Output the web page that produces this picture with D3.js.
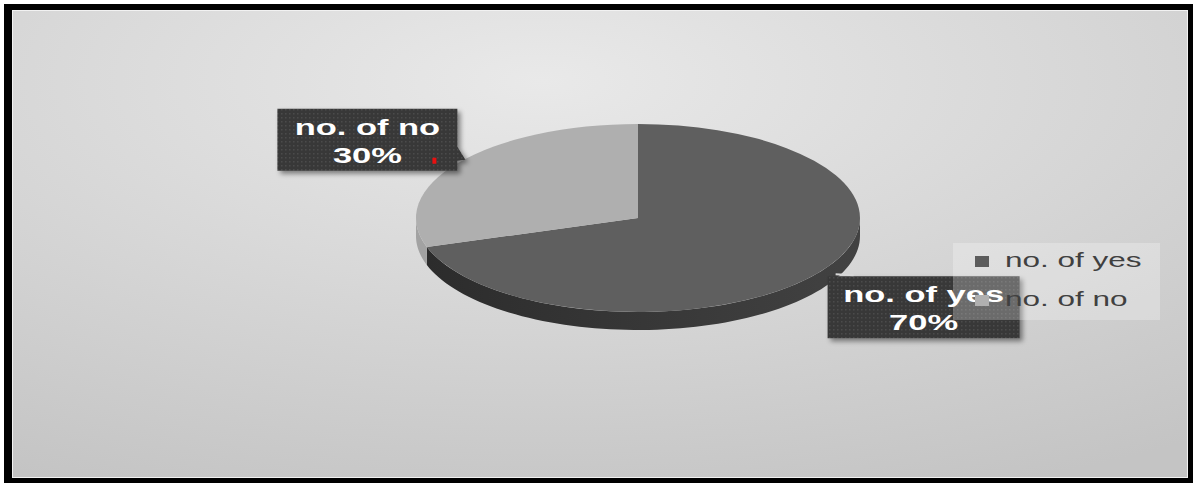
<!DOCTYPE html>
<html>
<head>
<meta charset="utf-8">
<script src="https://cdn.jsdelivr.net/npm/d3@7"></script>
<style>
  html, body { margin: 0; padding: 0; background: #ffffff; }
  svg { display: block; }
</style>
</head>
<body>
<script>
// Survey answers
const categories = ["no. of yes", "no. of no"];
const values = [70, 30];

// Slice styling
const topColors = ["#5f5f5f", "#afafaf"];
const sideColors = ["#363636", "#a2a2a2"];
const legendColors = ["#5c5c5c", "#b0b0b0"];

const W = 1193, H = 483;
const svg = d3.select("body").append("svg")
  .attr("width", W).attr("height", H)
  .attr("font-family", "'Liberation Sans', Arial, sans-serif");

const defs = svg.append("defs");

// Chart-area background: soft grey radial wash
const bg = defs.append("radialGradient").attr("id", "bgGrad")
  .attr("cx", "45%").attr("cy", "15%").attr("r", "95%");
bg.append("stop").attr("offset", "0%").attr("stop-color", "#e9e9e9");
bg.append("stop").attr("offset", "100%").attr("stop-color", "#c4c4c4");

// Dotted texture for the data-label callouts
const pat = defs.append("pattern").attr("id", "dots")
  .attr("width", 4).attr("height", 4).attr("patternUnits", "userSpaceOnUse");
pat.append("rect").attr("width", 4).attr("height", 4).attr("fill", "#383838");
pat.append("rect").attr("x", 1).attr("y", 1).attr("width", 1.5).attr("height", 1.5).attr("fill", "#4c4c4c");

// Drop shadow for the callouts
const sh = defs.append("filter").attr("id", "shadow")
  .attr("x", "-20%").attr("y", "-20%").attr("width", "150%").attr("height", "160%");
sh.append("feDropShadow").attr("dx", 3).attr("dy", 3).attr("stdDeviation", 2.5)
  .attr("flood-color", "#000").attr("flood-opacity", 0.45);

// Side shading for the pie wall
const sideGrad = defs.append("linearGradient").attr("id", "sideGrad")
  .attr("x1", "0%").attr("x2", "100%").attr("y1", "0%").attr("y2", "0%");
sideGrad.append("stop").attr("offset", "0%").attr("stop-color", "#2c2c2c");
sideGrad.append("stop").attr("offset", "100%").attr("stop-color", "#424242");

// Frame
svg.append("rect").attr("x", 4).attr("y", 4).attr("width", W - 4).attr("height", H - 4).attr("fill", "#000");
svg.append("rect").attr("x", 12).attr("y", 10).attr("width", 1176).attr("height", 468).attr("fill", "#f2f2f2");
svg.append("rect").attr("x", 13).attr("y", 11).attr("width", 1174).attr("height", 466).attr("fill", "url(#bgGrad)");

// Pie geometry (tilted disc)
const cx = 638, cy = 218, rx = 222, ry = 94, depth = 18;
const total = d3.sum(values);
const pie = d3.pie().sort(null).value(d => d.value);
const arcs = pie(categories.map((c, i) => ({ name: c, value: values[i], i })));

const pt = (a, r = 1) => [cx + rx * r * Math.sin(a), cy - ry * r * Math.cos(a)];

function sidePath(a0, a1) {
  const s = Math.max(a0, Math.PI / 2), e = Math.min(a1, 3 * Math.PI / 2);
  if (e <= s) return null;
  const n = 80, top = [];
  for (let k = 0; k <= n; k++) top.push(pt(s + (e - s) * k / n));
  const bottom = top.slice().reverse().map(p => [p[0], p[1] + depth]);
  return d3.line()(top.concat(bottom)) + "Z";
}

const pieG = svg.append("g");

// Walls
arcs.forEach(d => {
  const p = sidePath(d.startAngle, d.endAngle);
  if (p) pieG.append("path").attr("d", p)
    .attr("fill", d.data.i === 0 ? "url(#sideGrad)" : sideColors[d.data.i]);
});

// Top faces
const arcGen = d3.arc().innerRadius(0).outerRadius(rx);
pieG.append("g")
  .attr("transform", `translate(${cx},${cy}) scale(1,${ry / rx})`)
  .selectAll("path").data(arcs).join("path")
  .attr("d", arcGen)
  .attr("fill", d => topColors[d.data.i]);

// Data-label callouts, anchored at each slice's mid-angle on the rim
const sx = 1.5; // horizontal text stretch
const labelLayout = [
  { dx: 10, dy: 3, w: 192, h: 62, side: "br" },   // yes: box below-right of anchor
  { dx: -181, dy: -54, w: 180, h: 62, side: "tl" } // no: box above-left of anchor
];

const labelG = svg.append("g");
arcs.forEach(d => {
  const mid = (d.startAngle + d.endAngle) / 2;
  const [ax, ay] = pt(mid);
  const L = labelLayout[d.data.i];
  const x0 = ax + L.dx, y0 = ay + L.dy;
  const g = labelG.append("g").attr("filter", "url(#shadow)");
  if (L.side === "tl") {
    g.append("path")
      .attr("d", `M${x0},${y0}H${x0 + L.w}V${y0 + 38}L${ax + 7},${ay - 3}L${x0 + L.w},${y0 + L.h - 10}V${y0 + L.h}H${x0}Z`)
      .attr("fill", "url(#dots)");
  } else {
    g.append("rect").attr("x", x0).attr("y", y0).attr("width", L.w).attr("height", L.h)
      .attr("fill", "url(#dots)");
  }
  const pct = Math.round(d.data.value / total * 100) + "%";
  const cxT = x0 + L.w / 2;
  [d.data.name, pct].forEach((t, k) => {
    labelG.append("text")
      .attr("transform", `translate(${cxT},${y0 + 26 + k * 28}) scale(${sx},1)`)
      .attr("text-anchor", "middle")
      .attr("font-size", 23).attr("font-weight", "bold")
      .attr("fill", "#ffffff")
      .text(t);
  });
  if (L.side === "br") {
    labelG.append("line")
      .attr("x1", ax + 18).attr("y1", ay + 1).attr("x2", ax + 36).attr("y2", ay + 2)
      .attr("stroke", "#d8d8d8").attr("stroke-width", 2);
  } else {
    labelG.append("rect").attr("x", x0 + 155).attr("y", y0 + 49).attr("width", 4).attr("height", 6)
      .attr("fill", "#e81010");
  }
});

// Legend (translucent panel drawn over the plot)
const legendG = svg.append("g");
legendG.append("rect").attr("x", 953).attr("y", 243).attr("width", 207).attr("height", 77)
  .attr("fill", "#ffffff").attr("fill-opacity", 0.26);
categories.forEach((c, i) => {
  const y = 256 + i * 39;
  legendG.append("rect").attr("x", 975).attr("y", y).attr("width", 14).attr("height", 11)
    .attr("fill", legendColors[i]);
  legendG.append("text")
    .attr("transform", `translate(1005,${y + 11}) scale(${sx},1)`)
    .attr("font-size", 21).attr("fill", "#404040")
    .text(c);
});
</script>
</body>
</html>
